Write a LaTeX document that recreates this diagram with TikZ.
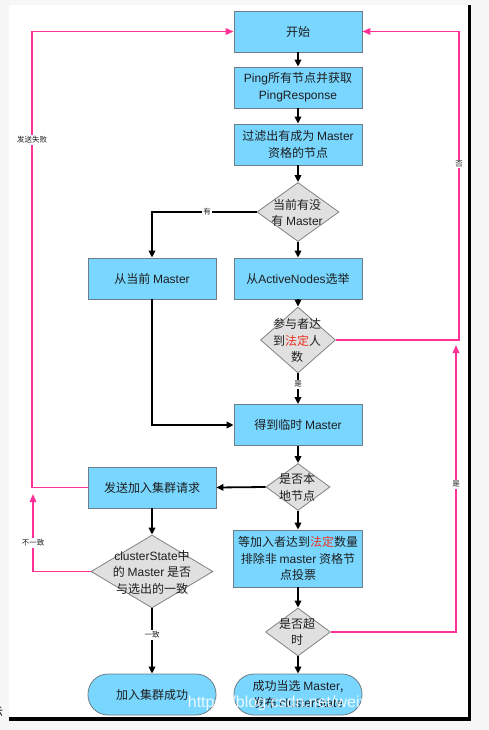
\documentclass[tikz,border=0pt]{standalone}
\usepackage{fontspec}
\setmainfont{Noto Sans CJK SC}
\newfontfamily\latn{Liberation Sans}
\usetikzlibrary{shapes.geometric,arrows.meta}
\definecolor{boxblue}{RGB}{120,214,255}
\definecolor{boxline}{RGB}{110,125,135}
\definecolor{diafill}{RGB}{224,224,224}
\definecolor{dialine}{RGB}{130,130,130}
\definecolor{pinkline}{RGB}{255,48,150}
\definecolor{redtxt}{RGB}{235,50,35}
\definecolor{bggray}{RGB}{247,247,247}
\definecolor{txt}{RGB}{30,30,30}
\tikzset{
  box/.style={rectangle, fill=boxblue, draw=boxline, line width=0.8pt, minimum width=128pt, minimum height=41pt, inner sep=0pt, align=center, text=txt, font=\fontsize{12}{17}\selectfont},
  term/.style={box, rounded corners=20pt},
  dia/.style={diamond, fill=diafill, draw=dialine, line width=0.8pt, inner sep=0pt},
  dtxt/.style={inner sep=0pt, align=center, text=txt, font=\fontsize{12}{16.5}\selectfont},
  ar/.style={draw=black, line width=1.8pt, -{Triangle[length=7pt,width=6.5pt]}},
  pk/.style={draw=pinkline, line width=1.6pt, -{Triangle[length=8pt,width=6.5pt]}},
  lab/.style={fill=white, inner sep=1.2pt, text=txt, font=\fontsize{7.5}{8}\selectfont},
  wm/.style={text=white, text opacity=0.85, inner sep=0pt, font=\latn\fontsize{16}{16}\selectfont}
}
\begin{document}
\begin{tikzpicture}[x=1pt,y=-1pt]
\useasboundingbox (0,0) rectangle (489,730);
\fill[bggray] (0,0) rectangle (489,730);
\fill[white] (9,5) rectangle (469,718);
\fill[black] (468,5) rectangle (470.5,720.5);
\fill[black] (9,717) rectangle (470.5,720.5);

% nodes
\node[box] (start) at (298,31.5) {开始};
\node[box] (ping) at (298,87.5) {{\latn Ping}所有节点并获取\\{\latn PingResponse}};
\node[box] (filt) at (298,144.5) {过滤出有成为 {\latn Master}\\资格的节点};
\node[dia, minimum width=82pt, minimum height=59pt] (d1) at (298,212) {};
\node[dtxt] (d1t) at (297,213) {当前有没\\有 {\latn Master}};
\node[box] (cur) at (152,278.5) {从当前 {\latn Master}};
\node[box] (act) at (298,278.5) {从{\latn ActiveNodes}选举};
\node[dia, minimum width=75pt, minimum height=66pt] (d2) at (298,340) {};
\node[dtxt] (d2t) at (297,340.5) {参与者达\\到\textcolor{redtxt}{法定}人\\数};
\node[box] (got) at (298,425) {得到临时 {\latn Master}};
\node[dia, minimum width=64pt, minimum height=47pt] (d3) at (298,487) {};
\node[dtxt] (d3t) at (297,487.5) {是否本\\地节点};
\node[box] (send) at (152,487.5) {发送加入集群请求};
\node[box, minimum width=129pt, minimum height=57pt, font=\fontsize{12}{16.5}\selectfont] (wait) at (298,558.5) {等加入者达到\textcolor{redtxt}{法定}数量\\排除非 {\latn master} 资格节\\点投票};
\node[dia, minimum width=122pt, minimum height=73pt] (d4) at (152,571.5) {};
\node[dtxt] (d4t) at (152,572) {{\latn clusterState}中\\的 {\latn Master} 是否\\与选出的一致};
\node[dia, minimum width=65pt, minimum height=48pt] (d5) at (298,632) {};
\node[dtxt] (d5t) at (297,632) {是否超\\时};
\node[term] (ok1) at (152,694.5) {加入集群成功};
\node[term] (ok2) at (298,694.5) {成功当选 {\latn Master},\\发布 {\latn clusterState}};

% black connectors
\draw[ar] (start.south) -- (ping.north);
\draw[ar] (ping.south) -- (filt.north);
\draw[ar] (filt.south) -- (d1.north);
\draw[ar] (d1.south) -- (act.north);
\draw[ar] (d1.west) -| (cur.north);
\draw[ar] (act.south) -- (d2.north);
\draw[ar] (d2.south) -- (got.north);
\draw[ar] (cur.south) |- (got.west);
\draw[ar] (got.south) -- (d3.north);
\draw[ar] (d3.west) -- (send.east);
\draw[ar] (d3.south) -- (wait.north);
\draw[ar] (wait.south) -- (d5.north);
\draw[ar] (d5.south) -- (ok2.north);
\draw[ar] (send.south) -- (d4.north);
\draw[ar] (d4.south) -- (ok1.north);

% pink connectors
\coordinate (pl) at (32,31.5);
\coordinate (pr) at (459,31.5);
\coordinate (pb) at (456,345);
\coordinate (pn) at (33,494);
\draw[pk] (send.west) -| (pl) -- (start.west);
\draw[pk] (d2.east) -| (pr) -- (start.east);
\draw[pk] (d5.east) -| (pb);
\draw[pk] (d4.west) -| (pn);

% labels
\node[lab] (lfail) at (32,140) {发送失败};
\node[lab] (lno) at (459,164) {否};
\node[lab] (lyes2) at (456,484) {是};
\node[lab] (lneq) at (33,543) {不一致};
\node[lab] (lhas) at (207,212) {有};
\node[lab] (lyes1) at (298,384) {是};
\node[lab] (leq) at (152,635) {一致};

% watermark and cut-off glyph
\node[wm] (wmk) at (324,703) {https://blog.csdn.net/weixin\_43557605};
\node[inner sep=0pt, font=\fontsize{12}{12}\selectfont] (cut) at (-3,712) {示};
\end{tikzpicture}
\end{document}
